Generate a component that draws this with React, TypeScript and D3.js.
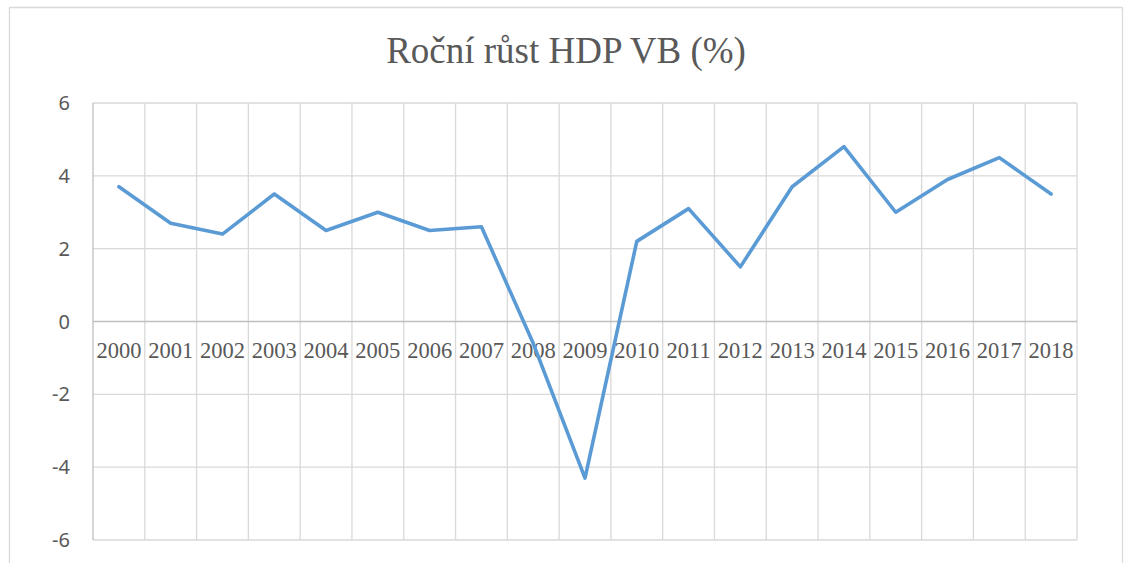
import React, { useEffect, useRef } from 'react';
import * as d3 from 'd3';

const years = [
  '2000', '2001', '2002', '2003', '2004', '2005', '2006', '2007', '2008', '2009',
  '2010', '2011', '2012', '2013', '2014', '2015', '2016', '2017', '2018',
];
// Roční růst HDP (%)
const growth = [3.7, 2.7, 2.4, 3.5, 2.5, 3.0, 2.5, 2.6, -0.6, -4.3, 2.2, 3.1, 1.5, 3.7, 4.8, 3.0, 3.9, 4.5, 3.5];
const yTicks = [-6, -4, -2, 0, 2, 4, 6];
const title = 'Roční růst HDP VB (%)';

const W = 1129;
const H = 563;

const App: React.FC = () => {
  const svgRef = useRef<SVGSVGElement>(null);

  useEffect(() => {
    if (!svgRef.current) return;
    const svg = d3.select(svgRef.current);
    svg.selectAll('*').remove();

    const left = 93, right = 1077, top = 103, bottom = 540;

    // outer chart border (cut off at the bottom)
    svg.append('path')
      .attr('d', `M9.5,${H + 2}V7.5H1122.5V${H + 2}`)
      .attr('fill', 'none')
      .attr('stroke', '#d9d9d9')
      .attr('stroke-width', 1.3);

    svg.append('text')
      .attr('x', 566)
      .attr('y', 63)
      .attr('text-anchor', 'middle')
      .attr('font-family', '"Liberation Serif", "Times New Roman", serif')
      .attr('font-size', 37)
      .attr('fill', '#595959')
      .text(title);

    const x = d3.scaleBand<string>().domain(years).range([left, right]).padding(0);
    const y = d3.scaleLinear().domain([-6, 6]).range([bottom, top]);

    // horizontal gridlines
    svg.append('g')
      .selectAll('line')
      .data(yTicks.filter(t => t !== 0))
      .enter()
      .append('line')
      .attr('x1', left)
      .attr('x2', right)
      .attr('y1', d => y(d))
      .attr('y2', d => y(d))
      .attr('stroke', '#d9d9d9')
      .attr('stroke-width', 1.3);

    // vertical gridlines at category boundaries
    const bounds = years.map(d => x(d) as number).concat([right]);
    svg.append('g')
      .selectAll('line')
      .data(bounds.slice(1))
      .enter()
      .append('line')
      .attr('x1', d => d)
      .attr('x2', d => d)
      .attr('y1', top)
      .attr('y2', bottom)
      .attr('stroke', '#d9d9d9')
      .attr('stroke-width', 1.3);

    // value axis line
    svg.append('line')
      .attr('x1', left)
      .attr('x2', left)
      .attr('y1', top)
      .attr('y2', bottom)
      .attr('stroke', '#bfbfbf')
      .attr('stroke-width', 1.3);

    // zero line (category axis)
    svg.append('line')
      .attr('x1', left)
      .attr('x2', right)
      .attr('y1', y(0))
      .attr('y2', y(0))
      .attr('stroke', '#bfbfbf')
      .attr('stroke-width', 1.3);

    // y tick labels
    svg.append('g')
      .selectAll('text')
      .data(yTicks)
      .enter()
      .append('text')
      .attr('x', 70)
      .attr('y', d => y(d) + 7)
      .attr('text-anchor', 'end')
      .attr('font-family', '"Noto Sans", "Open Sans", sans-serif')
      .attr('font-size', 20)
      .attr('fill', '#595959')
      .text(d => d);

    // year labels
    svg.append('g')
      .selectAll('text')
      .data(years)
      .enter()
      .append('text')
      .attr('x', d => (x(d) as number) + x.bandwidth() / 2)
      .attr('y', y(0) + 36)
      .attr('text-anchor', 'middle')
      .attr('font-family', '"Liberation Serif", "Times New Roman", serif')
      .attr('font-size', 22.5)
      .attr('fill', '#595959')
      .text(d => d);

    const line = d3.line<number>()
      .x((_, i) => (x(years[i]) as number) + x.bandwidth() / 2)
      .y(d => y(d));

    svg.append('path')
      .datum(growth)
      .attr('d', line)
      .attr('fill', 'none')
      .attr('stroke', '#5b9bd5')
      .attr('stroke-width', 3.6)
      .attr('stroke-linejoin', 'round')
      .attr('stroke-linecap', 'round');
  }, []);

  return (
    <svg
      ref={svgRef}
      width={W}
      height={H}
      style={{ position: 'fixed', left: 0, top: 0, background: '#fff' }}
    />
  );
};

export default App;
